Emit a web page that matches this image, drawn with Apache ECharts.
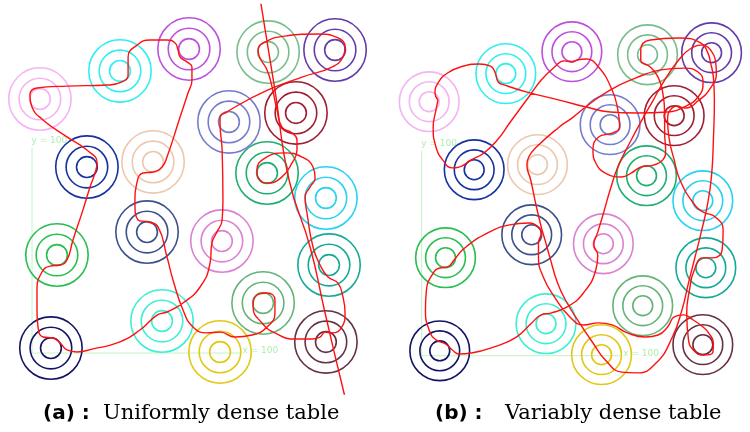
<!DOCTYPE html>
<html><head><meta charset="utf-8">
<script src="https://cdn.jsdelivr.net/npm/echarts@6/dist/echarts.min.js"></script>
<style>html,body{margin:0;padding:0;background:#fff}#c{width:750px;height:432px}</style>
</head><body><div id="c"></div>
<script>
// circle centres (data units) shared by both panels
const circleX = [3.8, 42.3, 75.5, 113.5, 145.7, 94.7, 126.9, 26.4, 58.2, 113.0, 141.3, 12.0, 55.3, 91.3, 142.8, 111.1, 62.5, 9.1, 90.4, 141.3];
const circleY = [123.9, 137.6, 148.3, 146.8, 147.8, 112.7, 117.1, 90.7, 93.2, 87.8, 75.6, 47.8, 59.0, 54.6, 42.9, 24.4, 15.6, 2.4, 0.5, 5.4];
const circleColors = ['#f4b4f4', '#2ef0f0', '#be50dc', '#78be8c', '#643caa', '#737dcd', '#a01e32', '#1432a0', '#ebc8af', '#1eaf6e', '#28d2f0', '#28be50', '#3c508c', '#dc82d2', '#14aa96', '#64b478', '#3cf0d2', '#141464', '#e1c814', '#643246'];
const ringRadii = [5, 10, 15];

// panel (a) red tour
const tourA = [[97.6,120.0],[113.5,128.3],[129.8,134.6],[144.2,139.5],[149.5,144.4],[150.5,149.3],[147.1,153.7],[137.5,155.6],[121.6,154.6],[112.0,151.7],[108.7,147.8],[109.6,143.9],[113.0,138.0],[115.4,129.8],[117.8,118.5],[120.2,110.2],[125.0,107.3],[127.4,103.9],[127.4,99.0],[125.0,92.7],[120.2,85.9],[113.5,82.9],[109.6,84.4],[108.2,89.3],[112.0,95.1],[121.6,97.6],[129.8,95.6],[135.1,90.7],[136.1,85.4],[133.7,81.0],[131.3,76.1],[132.2,68.3],[135.1,51.7],[138.5,42.9],[142.3,37.1],[147.1,34.1],[149.5,27.3],[150.5,19.5],[149.0,12.7],[144.2,9.8],[140.9,10.2],[138.5,7.8],[134.6,6.8],[126.5,6.8],[116.8,9.8],[110.6,14.6],[106.3,22.4],[108.2,28.3],[113.0,29.3],[116.8,25.9],[116.8,19.5],[113.0,12.7],[105.8,8.8],[97.6,7.8],[90.4,10.2],[84.1,9.8],[77.4,12.7],[72.6,21.0],[67.8,35.6],[64.9,46.8],[60.6,61.5],[55.8,63.9],[51.0,64.9],[49.5,73.2],[50.5,83.4],[53.4,87.8],[58.2,88.3],[62.5,90.7],[64.9,95.6],[71.2,115.1],[75.0,126.8],[76.9,133.2],[76.9,139.5],[74.5,142.0],[71.2,144.4],[70.2,147.8],[68.8,151.2],[64.9,152.7],[56.7,152.7],[50.5,150.2],[46.2,144.4],[46.2,139.5],[46.2,135.6],[43.3,132.2],[36.1,130.7],[16.8,130.2],[2.4,129.3],[-1.0,125.9],[0,120.0],[5.3,113.7],[16.8,105.4],[26.4,99.0],[31.3,92.7],[30.3,87.8],[27.9,81.0],[24.5,69.8],[19.7,55.1],[16.8,45.4],[13.5,42.9],[8.7,42.4],[4.8,39.5],[2.4,30.7],[2.4,21.0],[2.9,12.7],[5.3,7.8],[10.1,7.3],[13.5,4.9],[16.8,1.5],[21.6,0.5],[29.3,2.0],[40.9,4.9],[51.9,11.2],[60.1,18.5],[64.9,20.0],[72.6,24.4],[80.8,32.2],[85.6,43.9],[86.5,53.7],[88.9,59.0],[91.4,64.9],[91.8,74.6],[91.4,99.0],[90.4,112.2],[90.4,115.1],[93.8,117.6],[97.6,120.0]];
// panel (a) stray line crossing the table
const strayA = [[109.6,174.6],[110.1,170.2],[116.8,128.3],[123.6,84.4],[133.7,51.7],[140.9,19.5],[150.0,-19.5],[151.0,-22.9]];

// panel (b) red tours
const tourB1 = [[8.2,124.7],[6.7,128.1],[8.2,133.0],[13.0,137.9],[21.2,141.3],[28.8,142.3],[34.6,141.3],[37.0,137.9],[38.5,133.5],[41.8,132.0],[52.9,128.6],[69.2,124.7],[82.7,121.3],[94.7,118.9],[107.7,118.4],[123.6,118.9],[131.7,121.3],[138.9,126.2],[141.4,133.0],[138.9,138.4],[131.7,140.3],[120.2,139.4],[107.7,135.5],[94.7,129.6],[83.7,122.3],[75.5,115.9],[69.2,111.6],[57.7,101.8],[53.8,96.9],[52.9,93.0],[54.8,85.7],[57.7,72.5],[60.1,62.8],[62.0,56.4],[64.4,48.1],[68.3,35.5],[73.1,25.7],[79.3,16.0],[86.1,6.2],[92.3,-2.1],[100.5,-8.0],[108.2,-8.4],[117.8,-3.6],[126.0,9.1],[130.8,22.3],[134.1,35.5],[137.0,46.7],[140.4,59.9],[143.8,74.5],[145.7,88.1],[146.6,105.2],[147.1,124.7],[146.6,135.9],[145.2,142.8],[143.8,147.7],[140.4,152.5],[129.3,155.0],[114.9,154.0],[110.1,149.1],[110.1,144.2],[114.9,140.8],[118.8,135.9],[121.2,128.1],[122.1,118.4],[122.1,108.6],[122.6,100.3],[121.2,95.5],[116.4,93.0],[110.1,92.0],[105.3,89.1],[100.5,87.2],[92.3,89.1],[87.5,94.0],[86.1,100.3],[88.9,106.7],[95.7,108.6],[99.5,111.6],[98.6,119.9],[95.7,129.6],[88.9,140.8],[82.7,144.7],[77.9,144.2],[75.5,143.3],[71.6,143.8],[66.8,140.8],[60.1,134.5],[53.8,126.2],[44.2,113.5],[38.0,105.2],[31.3,98.9],[25.0,95.5],[18.8,92.0],[15.4,91.6],[10.6,95.5],[7.2,101.8],[5.8,111.6],[7.2,119.9],[8.2,124.7]];
const tourB2 = [[141.8,151.6],[135.6,150.1],[128.4,143.3],[121.2,133.0],[116.4,124.7],[111.5,116.4],[105.3,105.2],[98.6,92.0],[94.7,80.8],[91.4,69.6],[88.5,60.3],[86.5,54.0],[88.5,49.1],[87.5,41.8],[81.3,30.6],[73.1,23.8],[64.9,20.8],[60.1,19.9],[55.3,16.0],[47.6,9.1],[36.1,4.2],[25.0,1.3],[18.8,0.8],[15.4,2.8],[12.0,5.7],[7.2,7.7],[4.3,11.1],[1.9,22.3],[2.4,32.0],[5.8,40.3],[9.1,42.8],[13.0,43.3],[16.3,46.7],[21.6,52.5],[33.2,59.9],[44.2,63.8],[53.8,64.7],[58.7,62.8],[60.1,59.9],[58.7,55.0],[58.7,48.1],[61.1,38.4],[66.8,28.6],[74.5,18.9],[81.3,15.0],[88.9,16.0],[95.7,15.0],[103.4,11.1],[112.5,9.1],[118.8,10.1],[123.6,14.0],[126.9,18.9],[131.7,19.9],[136.5,17.4],[141.4,14.0],[144.2,11.1],[146.6,6.2],[146.2,1.3],[141.4,0.3],[136.5,2.8],[134.1,7.7],[133.2,20.8],[134.6,32.0],[137.0,41.8],[141.4,47.7],[146.2,47.7],[151.0,51.6],[151.5,61.3],[147.6,67.7],[141.4,70.1],[136.5,74.5],[129.8,85.7],[126.9,95.5],[124.5,105.2],[123.6,115.0],[125.0,119.9],[128.4,121.8],[132.2,120.8],[139.4,124.7],[145.2,130.6],[148.1,137.9],[147.6,144.2],[145.2,149.1],[141.8,151.6]];

// reference frame x = 100 / y = 100
const frameLine = [[0, 100], [0, 0], [100, 0]];
const frameLabels = [{ value: [0, 100], text: 'y = 100' }, { value: [100, 0], text: 'x = 100' }];

const captionTags = ['(a) :', '(b) :'];
const captionTexts = ['Uniformly dense table', 'Variably dense table'];

const RED = '#ff1010';
const chart = echarts.init(document.getElementById('c'), null, { renderer: 'canvas' });

const grids = [
  { left: 0.8, top: 4.5, width: 374.4, height: 389.5 },
  { left: 391.8, top: 7.2, width: 374.4, height: 389.5 }
];
const xAxes = grids.map((g, i) => ({ type: 'value', gridIndex: i, min: -15, max: 165, show: false }));
const yAxes = grids.map((g, i) => ({ type: 'value', gridIndex: i, min: -20, max: 170, show: false }));

function ringItem(params, api) {
  const c = api.coord([api.value(0), api.value(1)]);
  const col = circleColors[params.dataIndex];
  return {
    type: 'group',
    children: ringRadii.map(r => ({
      type: 'circle',
      shape: { cx: c[0], cy: c[1], r: api.size([r, 0])[0] },
      style: { fill: 'none', stroke: col, lineWidth: 1.6 }
    }))
  };
}

const series = [];
[0, 1].forEach(i => {
  series.push({
    type: 'line', xAxisIndex: i, yAxisIndex: i, data: frameLine, symbol: 'none',
    lineStyle: { color: '#c4f2c4', width: 1 }, silent: true, z: 1
  });
  series.push({
    type: 'scatter', xAxisIndex: i, yAxisIndex: i, symbolSize: 1, itemStyle: { color: 'transparent' },
    data: frameLabels.map((d, k) => ({
      value: d.value,
      label: {
        show: true, formatter: d.text, color: '#98e898', fontSize: 9, fontFamily: 'DejaVu Sans',
        align: 'left', verticalAlign: 'middle', position: k === 0 ? [0, -7] : [3, -1.5]
      }
    })), z: 1
  });
  series.push({
    type: 'custom', xAxisIndex: i, yAxisIndex: i, renderItem: ringItem,
    data: circleX.map((x, k) => [x, circleY[k]]), z: 2
  });
});
function redLine(data, gi) {
  return {
    type: 'line', xAxisIndex: gi, yAxisIndex: gi, data: data, symbol: 'none', smooth: 0.5,
    lineStyle: { color: RED, width: 1.4 }, clip: true, z: 3
  };
}
series.push(redLine(tourA, 0));
series.push(redLine(strayA, 0));
series.push(redLine(tourB1, 1));
series.push(redLine(tourB2, 1));

const tagX = [43, 435], textX = [103, 505];
const graphic = [];
captionTags.forEach((t, i) => {
  graphic.push({ type: 'text', x: tagX[i], y: 414, style: { text: t, fill: '#000', font: 'bold 20px "DejaVu Sans"', verticalAlign: 'middle' } });
  graphic.push({ type: 'text', x: textX[i], y: 414, style: { text: captionTexts[i], fill: '#000', font: '21px "DejaVu Serif"', verticalAlign: 'middle' } });
});

chart.setOption({
  animation: false,
  backgroundColor: '#fff',
  grid: grids,
  xAxis: xAxes,
  yAxis: yAxes,
  series: series,
  graphic: graphic
});
</script>
</body></html>
